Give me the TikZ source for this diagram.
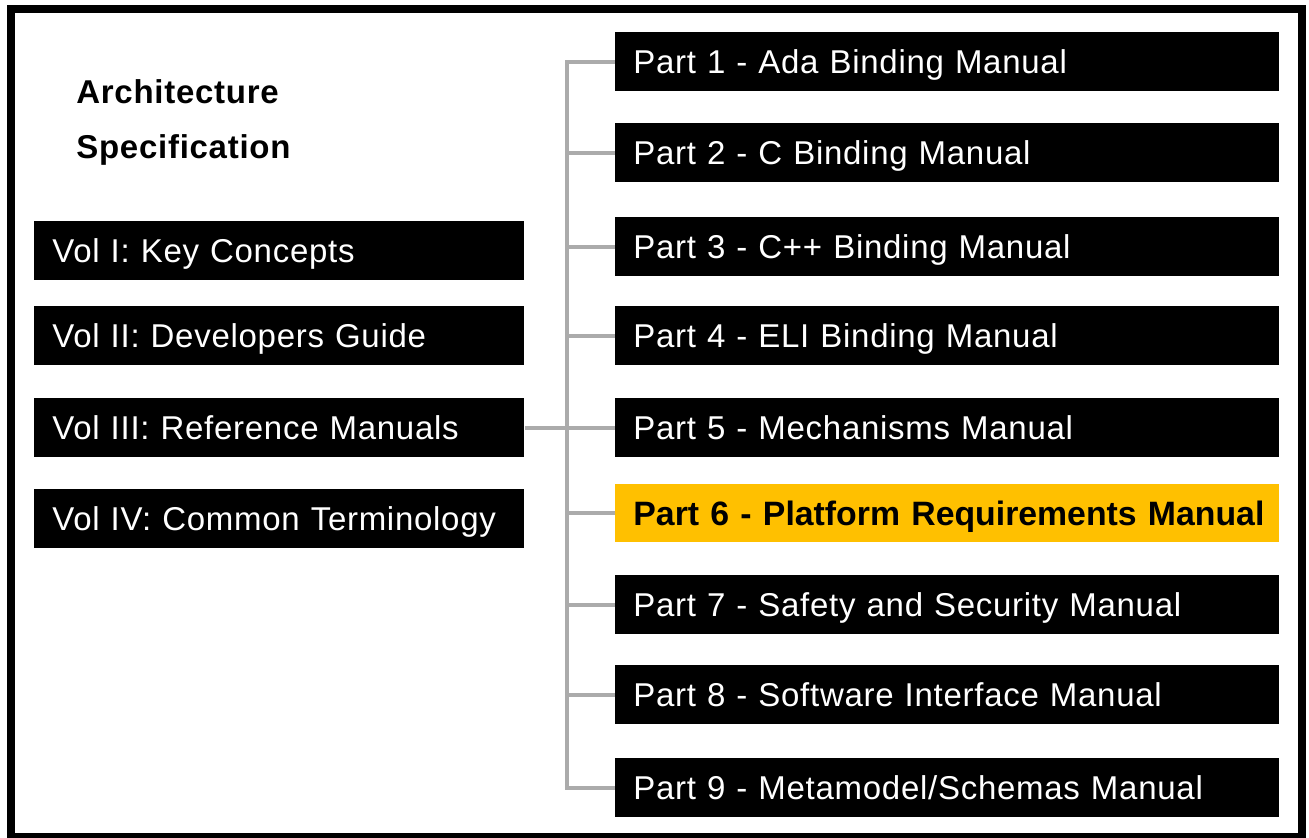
\documentclass[tikz,border=0pt]{standalone}
\usepackage{fontspec}
\setmainfont{Liberation Sans}
\begin{document}
\begin{tikzpicture}[x=0.5pt, y=-0.5pt]
% TikZ overview of the architecture documents
\providecommand{\archConnColor}{black!33}
\providecommand{\archConnWidth}{2pt}
\providecommand{\archFrameWidth}{4pt}
\providecommand{\archFont}{\fontsize{16.5}{20}\selectfont\addfontfeature{LetterSpace=2.2}}
\providecommand{\archBoldFont}{\fontsize{16.9}{20}\selectfont\bfseries}
\definecolor{archHighlight}{RGB}{255,192,0}
\tikzset{
  volbox/.style={anchor=north west, fill=black, text=white, inner xsep=9pt, inner ysep=0pt,
    minimum height=29.5pt, text width=227pt, align=left, text height=11.8pt, text depth=0pt,
    font=\archFont},
  partbox/.style={volbox, text width=314pt},
  hlbox/.style={partbox, fill=archHighlight, text=black, minimum height=29pt, font=\archBoldFont},
  titletext/.style={anchor=base west, inner sep=0pt, font=\archFont\bfseries},
  conn/.style={draw=\archConnColor, line width=\archConnWidth},
}
\useasboundingbox (0,0) rectangle (1309,837);
% Outer frame
\draw[line width=\archFrameWidth] (11,9) rectangle (1301.5,837);
% Title
\node[titletext] (title1) at (76,103) {Architecture};
\node[titletext] (title2) at (76,158) {Specification};
% Volumes
\node[volbox] (v1) at (34,221) {Vol I: Key Concepts};
\node[volbox] (v2) at (34,306) {Vol II: Developers Guide};
\node[volbox] (v3) at (34,398) {Vol III: Reference Manuals};
\node[volbox] (v4) at (34,489) {Vol IV: Common Terminology};
% Parts of Vol III
\node[partbox] (p1) at (615,32) {Part 1 - Ada Binding Manual};
\node[partbox] (p2) at (615,123) {Part 2 - C Binding Manual};
\node[partbox] (p3) at (615,217) {Part 3 - C++ Binding Manual};
\node[partbox] (p4) at (615,306) {Part 4 - ELI Binding Manual};
\node[partbox] (p5) at (615,398) {Part 5 - Mechanisms Manual};
\node[hlbox] (p6) at (615,484) {\mbox{Part 6 - Platform Requirements Manual}};
\node[partbox] (p7) at (615,575) {Part 7 - Safety and Security Manual};
\node[partbox] (p8) at (615,665) {Part 8 - Software Interface Manual};
\node[partbox] (p9) at (615,758) {Part 9 - Metamodel/Schemas Manual};
% Connectors
\coordinate (spine) at (566.5,0);
\begin{scope}[conn]
  \draw (p1.west) -- (p1.west -| spine) -- (p9.west -| spine) -- (p9.west);
  \draw (p2.west) -- (p2.west -| spine);
  \draw (p3.west) -- (p3.west -| spine);
  \draw (p4.west) -- (p4.west -| spine);
  \draw (p6.west) -- (p6.west -| spine);
  \draw (p7.west) -- (p7.west -| spine);
  \draw (p8.west) -- (p8.west -| spine);
  \draw (v3.east) -- (p5.west);
\end{scope}
\end{tikzpicture}
\end{document}
